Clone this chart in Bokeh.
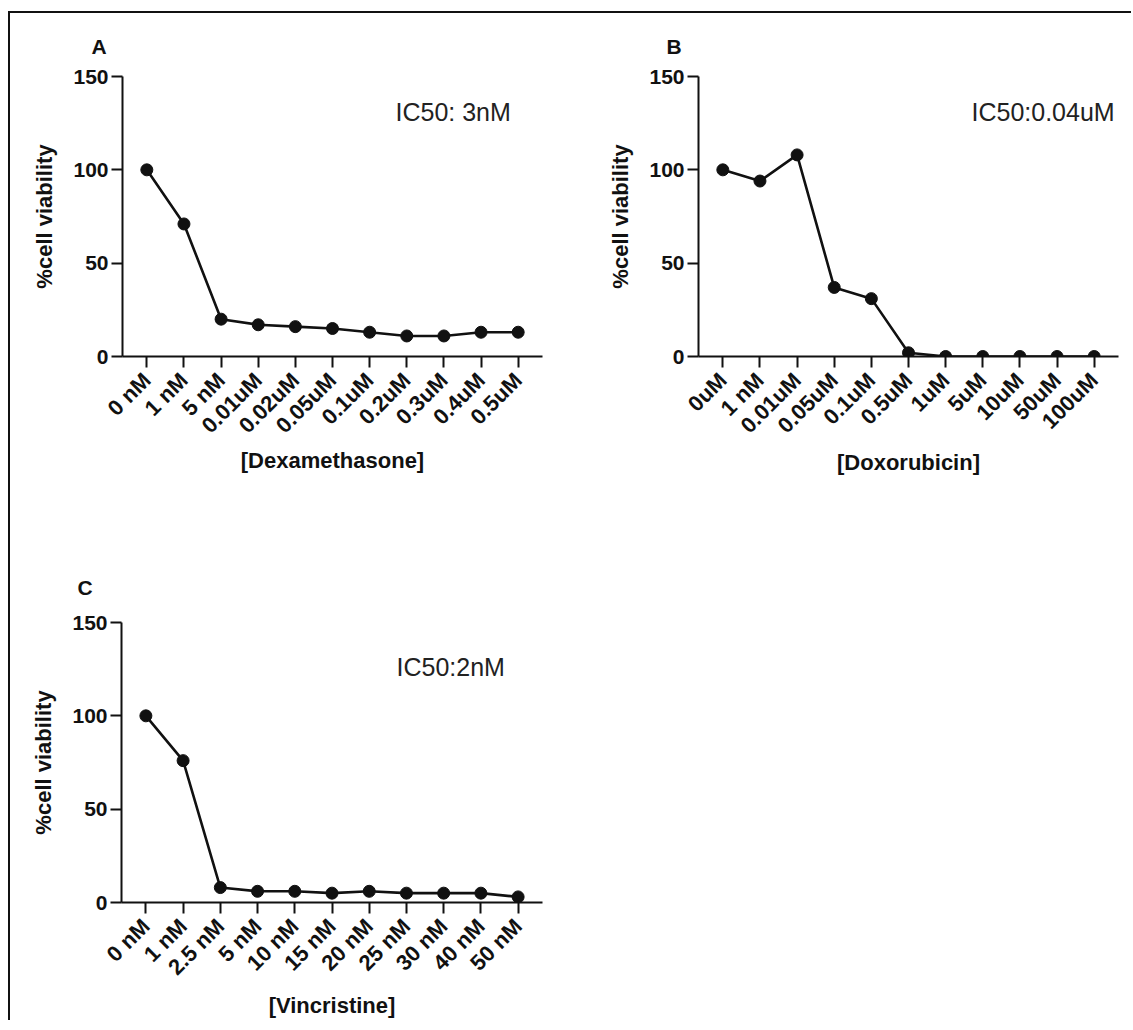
import math
from bokeh.plotting import figure
from bokeh.models import FactorRange, Range1d, FixedTicker, Label
from bokeh.layouts import column, row
from bokeh.embed import file_html
from bokeh.resources import INLINE

# ---------------- data ----------------
dex_labels = ["0 nM", "1 nM", "5 nM", "0.01uM", "0.02uM", "0.05uM",
              "0.1uM", "0.2uM", "0.3uM", "0.4uM", "0.5uM"]
dex_values = [100, 71, 20, 17, 16, 15, 13, 11, 11, 13, 13]

dox_labels = ["0uM", "1 nM", "0.01uM", "0.05uM", "0.1uM", "0.5uM",
              "1uM", "5uM", "10uM", "50uM", "100uM"]
dox_values = [100, 94, 108, 37, 31, 2, 0, 0, 0, 0, 0]

vin_labels = ["0 nM", "1 nM", "2.5 nM", "5 nM", "10 nM", "15 nM",
              "20 nM", "25 nM", "30 nM", "40 nM", "50 nM"]
vin_values = [100, 76, 8, 6, 6, 5, 6, 5, 5, 5, 3]

y_ticks = [0, 50, 100, 150]
y_title = "%cell viability"

FONT = "Liberation Sans"
INK = "#111111"


def make_panel(labels, values, xtitle, letter, ic50, width, height,
               b_left, b_top, b_right, b_bottom, ic50_x, ic50_y,
               letter_off, letter_standoff, xtitle_standoff):
    p = figure(
        width=width, height=height,
        x_range=FactorRange(*labels, range_padding=0.0282, range_padding_units="percent"),
        y_range=Range1d(0, 150),
        output_backend="svg", toolbar_location=None,
        min_border_left=b_left, min_border_top=b_top,
        min_border_right=b_right, min_border_bottom=b_bottom,
        title=letter,
    )
    p.background_fill_color = "white"
    p.border_fill_color = "white"
    p.outline_line_color = None
    p.grid.visible = False

    p.title.text_font = FONT
    p.title.text_font_size = "21px"
    p.title.text_font_style = "bold"
    p.title.text_color = INK
    p.title.align = "left"
    p.title.offset = letter_off
    p.title.standoff = letter_standoff

    for ax in (p.xaxis[0], p.yaxis[0]):
        ax.axis_line_width = 2
        ax.axis_line_color = INK
        ax.major_tick_line_width = 2
        ax.major_tick_line_color = INK
        ax.major_tick_in = 0
        ax.minor_tick_line_color = None
        ax.major_label_text_font = FONT
        ax.major_label_text_font_style = "bold"
        ax.major_label_text_color = INK
        ax.axis_label_text_font = FONT
        ax.axis_label_text_font_style = "bold"
        ax.axis_label_text_font_size = "22px"
        ax.axis_label_text_color = INK

    p.yaxis.ticker = FixedTicker(ticks=y_ticks)
    p.yaxis.major_tick_out = 11
    p.yaxis.major_label_standoff = 3
    p.yaxis.major_label_text_font_size = "21px"
    p.yaxis.axis_label = y_title
    p.yaxis.axis_label_standoff = 13

    p.xaxis.major_tick_out = 11
    p.xaxis.major_label_orientation = math.pi / 4
    p.xaxis.major_label_standoff = 9
    p.xaxis.major_label_text_font_size = "22px"
    p.xaxis.axis_label = xtitle
    p.xaxis.axis_label_standoff = xtitle_standoff

    p.line(x=labels, y=values, line_color=INK, line_width=2.6)
    p.scatter(x=labels, y=values, size=12, marker="circle",
              fill_color=INK, line_color=INK)

    p.add_layout(Label(x=ic50_x, y=ic50_y, x_units="screen", y_units="data",
                       text=ic50, text_font=FONT, text_font_size="25px",
                       text_color="#222222", text_baseline="alphabetic"))
    return p


pA = make_panel(dex_labels, dex_values, "[Dexamethasone]", "A", "IC50: 3nM",
                560, 517, 112, 63, 28, 174, 273, 131, -31, 38, -2)
pB = make_panel(dox_labels, dox_values, "[Doxorubicin]", "B", "IC50:0.04uM",
                561, 517, 128, 63, 13, 174, 273, 131, -32, 38, 0)
pC = make_panel(vin_labels, vin_values, "[Vincristine]", "C", "IC50:2nM",
                560, 490, 111, 92, 28, 118, 275, 126, -44, 47, 1)

layout = column(
    row(pA, pB),
    pC,
    styles={"border-top": "2px solid #111111", "border-left": "2px solid #111111",
            "margin-top": "11px", "margin-left": "8px"},
)

open("out.html", "w").write(file_html(layout, INLINE))
